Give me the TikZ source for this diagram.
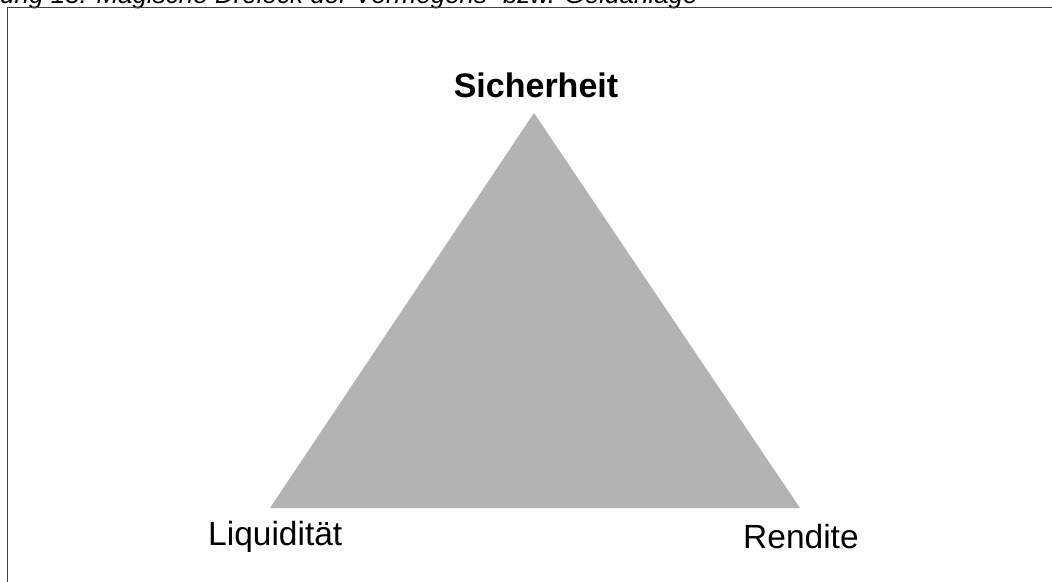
\documentclass[tikz,border=0pt]{standalone}
\usepackage{fontspec}
\setmainfont{Liberation Sans}
\begin{document}
\begin{tikzpicture}[x=1pt,y=-1pt,
  lbl/.style={anchor=base west,inner sep=0pt,font=\fontsize{33.5}{40}\selectfont},
  frame/.style={draw=black!75,line width=1.8pt}]
\useasboundingbox (0,0) rectangle (1052,581);
\clip (0,0) rectangle (1052,581);
\node[anchor=base east,inner sep=0pt,font=\fontsize{26}{30}\selectfont\itshape] (cap) at (698,3) {Abbildung 13: Magische Dreieck der Vermögens- bzw. Geldanlage};
\draw[frame] (7.5,590) -- (7.5,7.5) -- (1060,7.5);
\coordinate (top) at (534,113);
\coordinate (bl) at (270,508);
\coordinate (br) at (800,508);
\fill[fill={rgb,255:red,179;green,179;blue,179}] (top) -- (br) -- (bl) -- cycle;
\node[anchor=base,inner sep=0pt,font=\fontsize{34}{40}\selectfont\bfseries] (s) at (536,97) {Sicherheit};
\node[lbl] (l) at (208,545) {Liquidität};
\node[lbl] (r) at (743,548) {Rendite};
\end{tikzpicture}
\end{document}
